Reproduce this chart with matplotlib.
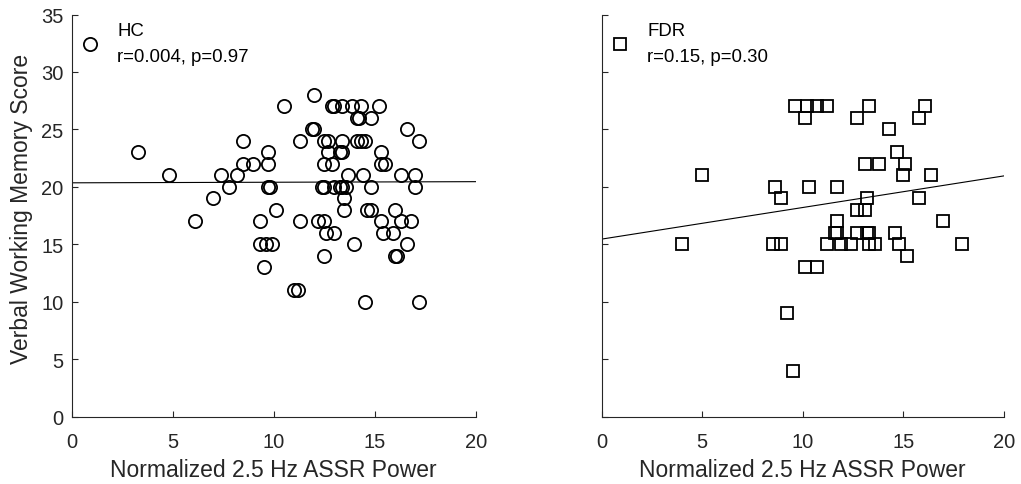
import numpy as np
import matplotlib.pyplot as plt

plt.rcParams['font.family'] = ['Liberation Sans', 'DejaVu Sans']

# HC group (circles)
hc_x = [3.3, 4.8, 6.1, 7.0, 7.4, 7.8, 8.2, 8.5, 8.5, 9.0, 9.7, 9.7, 9.7, 9.8,
        10.1, 9.3, 9.3, 9.6, 9.9, 9.5, 10.5,
        12.0, 12.9, 13.0, 13.4, 13.9, 14.3, 15.2, 14.1, 14.2, 14.8, 11.9, 12.0,
        16.6, 11.3, 12.5, 12.7, 13.4, 14.1, 14.3, 14.5, 17.2, 12.7, 13.3, 13.4,
        15.3, 12.5, 12.9, 15.3, 15.5, 13.7, 14.4, 16.3, 17.0, 12.4, 12.5, 13.0,
        13.3, 13.4, 13.6, 14.8, 17.0, 13.5, 13.5, 14.6, 14.8, 16.0, 11.3, 12.2,
        12.5, 15.3, 16.3, 16.8, 12.6, 13.0, 15.4, 15.9, 14.0, 16.6, 12.5, 16.0,
        16.1, 11.0, 11.2, 14.5, 17.2]
hc_y = [23, 21, 17, 19, 21, 20, 21, 24, 22, 22, 23, 22, 20, 20,
        18, 17, 15, 15, 15, 13, 27,
        28, 27, 27, 27, 27, 27, 27, 26, 26, 26, 25, 25,
        25, 24, 24, 24, 24, 24, 24, 24, 24, 23, 23, 23,
        23, 22, 22, 22, 22, 21, 21, 21, 21, 20, 20, 20,
        20, 20, 20, 20, 20, 19, 18, 18, 18, 18, 17, 17,
        17, 17, 17, 17, 16, 16, 16, 16, 15, 15, 14, 14,
        14, 11, 11, 10, 10]

# FDR group (squares)
fdr_x = [5.0, 4.0, 8.6, 8.9, 8.5, 8.9, 9.2, 9.5,
         9.6, 10.2, 10.7, 11.2, 10.1, 13.3, 12.7, 16.1, 15.8, 14.3, 14.7, 15.1,
         13.1, 13.8, 15.0, 16.4, 10.3, 11.7, 13.2, 15.8, 12.7, 13.1, 11.7, 17.0,
         11.6, 11.7, 12.7, 13.2, 13.3, 14.6, 11.2, 11.9, 12.4, 13.3, 13.6, 14.8,
         17.9, 15.2, 10.1, 10.7]
fdr_y = [21, 15, 20, 19, 15, 15, 9, 4,
         27, 27, 27, 27, 26, 27, 26, 27, 26, 25, 23, 22,
         22, 22, 21, 21, 20, 20, 19, 19, 18, 18, 17, 17,
         16, 16, 16, 16, 16, 16, 15, 15, 15, 15, 15, 15,
         15, 14, 13, 13]

# regression lines (value at x=0 and x=20)
line_x = [0, 20]
hc_line = [20.35, 20.45]
fdr_line = [15.45, 20.95]

hc_label = 'HC\nr=0.004, p=0.97'
fdr_label = 'FDR\nr=0.15, p=0.30'

fig = plt.figure(figsize=(10.21, 4.85), dpi=100)
ax1 = fig.add_axes([0.0702, 0.139, 0.3957, 0.829])
ax2 = fig.add_axes([0.5893, 0.139, 0.3938, 0.829])

ax1.plot(hc_x, hc_y, 'o', mfc='none', mec='black', ms=9.5, mew=1.3, label=hc_label)
ax1.plot(line_x, hc_line, color='black', lw=0.8)
ax2.plot(fdr_x, fdr_y, 's', mfc='none', mec='black', ms=8, mew=1.3, label=fdr_label)
ax2.plot(line_x, fdr_line, color='black', lw=0.8)

gray = '#262626'
for ax in (ax1, ax2):
    ax.set_xlim(0, 20)
    ax.set_ylim(0, 35)
    ax.set_xticks([0, 5, 10, 15, 20])
    ax.set_yticks([0, 5, 10, 15, 20, 25, 30, 35])
    ax.spines['top'].set_visible(False)
    ax.spines['right'].set_visible(False)
    for s in ('left', 'bottom'):
        ax.spines[s].set_color(gray)
        ax.spines[s].set_linewidth(0.8)
    ax.tick_params(direction='in', length=4, width=0.8, color=gray,
                   labelsize=14.5, labelcolor=gray, pad=6)
    ax.tick_params(axis='x', pad=11)
    ax.set_xlabel('Normalized 2.5 Hz ASSR Power', fontsize=16.5, color=gray,
                  labelpad=5)
    leg = ax.legend(loc='upper left', frameon=False, fontsize=13.4,
                    handletextpad=0.85, borderaxespad=0.0, handlelength=1.2)
    for t in leg.get_texts():
        t.set_linespacing(1.7)

ax2.tick_params(labelleft=False)
ax1.set_ylabel('Verbal Working Memory Score', fontsize=16.5, color=gray)
ax1.yaxis.set_label_coords(-0.096, 0.52)

fig.savefig('out.png', dpi=100)
